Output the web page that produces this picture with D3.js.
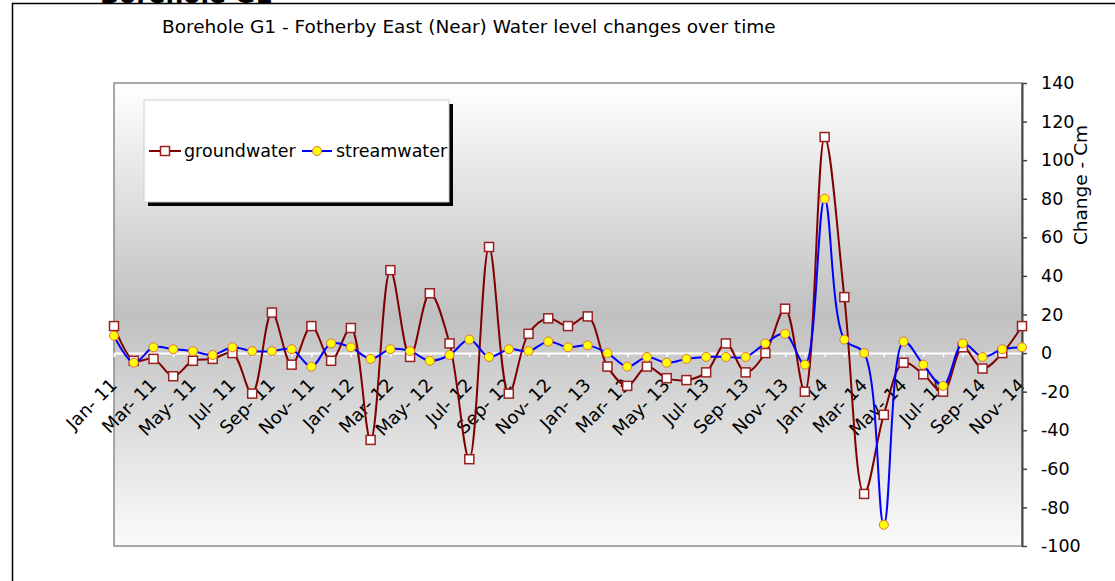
<!DOCTYPE html>
<html>
<head>
<meta charset="utf-8">
<script src="https://cdn.jsdelivr.net/npm/d3@7"></script>
<style>
	body { margin: 0; background: #fff; }
	text { font-family: "DejaVu Sans", Verdana, sans-serif; fill: #000; }
</style>
</head>
<body>
<script>
"use strict";

// monthly readings, Jan 2011 - Nov 2014
var months = [
	"Jan- 11","Feb- 11","Mar- 11","Apr- 11","May- 11","Jun- 11","Jul- 11","Aug- 11","Sep- 11","Oct- 11","Nov- 11","Dec- 11",
	"Jan- 12","Feb- 12","Mar- 12","Apr- 12","May- 12","Jun- 12","Jul- 12","Aug- 12","Sep- 12","Oct- 12","Nov- 12","Dec- 12",
	"Jan- 13","Feb- 13","Mar- 13","Apr- 13","May- 13","Jun- 13","Jul- 13","Aug- 13","Sep- 13","Oct- 13","Nov- 13","Dec- 13",
	"Jan- 14","Feb- 14","Mar- 14","Apr- 14","May- 14","Jun- 14","Jul- 14","Aug- 14","Sep- 14","Oct- 14","Nov- 14"
];

var groundwater = [
	14, -4, -3, -12, -4, -3, 0, -21, 21, -6, 14, -4,
	13, -45, 43, -2, 31, 5, -55, 55, -21, 10, 18, 14,
	19, -7, -17, -7, -13, -14, -10, 5, -10, 0, 23, -20,
	112, 29, -73, -32, -5, -11, -20, 3, -8, 0, 14
];

var streamwater = [
	9, -5, 3, 2, 1, -1, 3, 1, 1, 2, -7, 5,
	3, -3, 2, 1, -4, -1, 7, -2, 2, 1, 6, 3,
	4, 0, -7, -2, -5, -3, -2, -2, -2, 5, 10, -6,
	80, 7, 0, -89, 6, -6, -17, 5, -2, 2, 3
];

// every second month gets a label
var xTickLabels = months.filter(function(d, i) { return i % 2 === 0; });
var yTicks = [-100, -80, -60, -40, -20, 0, 20, 40, 60, 80, 100, 120, 140];

var width = 1115;
var height = 581;

var plot = { left: 114, right: 1022, top: 83, bottom: 546 };

var svg = d3.select("body").append("svg")
	.attr("width", width)
	.attr("height", height);

var xScale = d3.scalePoint()
	.domain(months)
	.range([plot.left, plot.right]);

var yScale = d3.scaleLinear()
	.domain([-100, 140])
	.range([plot.bottom, plot.top]);

// background gradient for the plot area
var defs = svg.append("defs");
var grad = defs.append("linearGradient")
	.attr("id", "plotGrad")
	.attr("x1", 0).attr("y1", 0)
	.attr("x2", 0).attr("y2", 1);
grad.append("stop").attr("offset", "0%").attr("stop-color", "#ffffff");
grad.append("stop").attr("offset", "50%").attr("stop-color", "#c0c0c0");
grad.append("stop").attr("offset", "100%").attr("stop-color", "#fbfbfb");

// big heading, mostly cut off at the top
svg.append("text")
	.attr("x", 100)
	.attr("y", 2.5)
	.style("font-size", "25px")
	.style("font-weight", "bold")
	.text("Borehole G1");

// outer chart frame
svg.append("rect")
	.attr("x", 12.5)
	.attr("y", 3.5)
	.attr("width", width + 20)
	.attr("height", height + 20)
	.attr("fill", "none")
	.attr("stroke", "#000")
	.attr("stroke-width", 1.5);

svg.append("text")
	.attr("x", 162)
	.attr("y", 33)
	.style("font-size", "18.5px")
	.text("Borehole G1 - Fotherby East (Near) Water level changes over time");

// plot area
svg.append("rect")
	.attr("x", plot.left)
	.attr("y", plot.top)
	.attr("width", plot.right - plot.left)
	.attr("height", plot.bottom - plot.top)
	.attr("fill", "url(#plotGrad)")
	.attr("stroke", "#8c8c8c")
	.attr("stroke-width", 1.5);

// zero line with category ticks
var zeroY = yScale(0);
var xAxis = svg.append("g")
	.attr("class", "axis x")
	.attr("transform", "translate(0," + zeroY + ")")
	.call(d3.axisBottom(xScale).tickSize(4).tickSizeOuter(0).tickFormat(""));
xAxis.select(".domain").attr("stroke", "#fff").attr("stroke-width", 2);
xAxis.selectAll(".tick line").attr("stroke", "#fff").attr("stroke-width", 1.5);

svg.append("g")
	.attr("class", "x-labels")
	.selectAll("text")
	.data(xTickLabels)
	.enter()
	.append("text")
	.attr("transform", function(d) { return "translate(" + (xScale(d) - 5) + ",377) rotate(-45)"; })
	.attr("dy", "0.72em")
	.style("text-anchor", "end")
	.style("font-size", "18px")
	.text(function(d) { return d; });

// right value axis
var yAxis = svg.append("g")
	.attr("class", "axis y")
	.attr("transform", "translate(" + plot.right + ",0)")
	.call(d3.axisRight(yScale)
		.tickValues(yTicks)
		.tickFormat(function(d) { return String(d); })
		.tickSize(5).tickSizeOuter(0).tickPadding(14));
yAxis.select(".domain").attr("stroke", "#444").attr("stroke-width", 2);
yAxis.selectAll(".tick line").attr("stroke", "#444").attr("stroke-width", 1.5);
yAxis.selectAll(".tick text")
	.style("font-size", "17.5px")
	.style("font-family", "\"DejaVu Sans\", Verdana, sans-serif")
	.attr("fill", "#000");

svg.append("text")
	.attr("transform", "translate(1087,185) rotate(-90)")
	.style("text-anchor", "middle")
	.style("font-size", "18.5px")
	.text("Change - Cm");

// series
var line = d3.line()
	.x(function(d, i) { return xScale(months[i]); })
	.y(function(d) { return yScale(d); })
	.curve(d3.curveCatmullRom.alpha(0.5));

var gw = svg.append("g").attr("class", "groundwater");
gw.append("path")
	.datum(groundwater)
	.attr("d", line)
	.attr("fill", "none")
	.attr("stroke", "#800000")
	.attr("stroke-width", 2);
gw.selectAll("rect")
	.data(groundwater)
	.enter()
	.append("rect")
	.attr("x", function(d, i) { return xScale(months[i]) - 4.5; })
	.attr("y", function(d) { return yScale(d) - 4.5; })
	.attr("width", 9)
	.attr("height", 9)
	.attr("fill", "#fff")
	.attr("stroke", "#9a2020")
	.attr("stroke-width", 1.5);

var sw = svg.append("g").attr("class", "streamwater");
sw.append("path")
	.datum(streamwater)
	.attr("d", line)
	.attr("fill", "none")
	.attr("stroke", "#0000ff")
	.attr("stroke-width", 2);
sw.selectAll("circle")
	.data(streamwater)
	.enter()
	.append("circle")
	.attr("cx", function(d, i) { return xScale(months[i]); })
	.attr("cy", function(d) { return yScale(d); })
	.attr("r", 4.5)
	.attr("fill", "#ffff00")
	.attr("stroke", "#e0703c")
	.attr("stroke-width", 1);

// legend with drop shadow
var legend = svg.append("g").attr("class", "legend");
legend.append("rect")
	.attr("x", 148).attr("y", 104)
	.attr("width", 305).attr("height", 102)
	.attr("fill", "#000");
legend.append("rect")
	.attr("x", 144).attr("y", 100)
	.attr("width", 305).attr("height", 102)
	.attr("fill", "#fff")
	.attr("stroke", "#cfcfcf")
	.attr("stroke-width", 1);

var ly = 151;
legend.append("line")
	.attr("x1", 149).attr("x2", 181).attr("y1", ly).attr("y2", ly)
	.attr("stroke", "#800000").attr("stroke-width", 2);
legend.append("rect")
	.attr("x", 165 - 4.5).attr("y", ly - 4.5)
	.attr("width", 9).attr("height", 9)
	.attr("fill", "#fff").attr("stroke", "#9a2020").attr("stroke-width", 1.5);
legend.append("text")
	.attr("x", 184).attr("y", ly).attr("dy", "0.35em")
	.style("font-size", "17.5px")
	.text("groundwater");

legend.append("line")
	.attr("x1", 302).attr("x2", 332).attr("y1", ly).attr("y2", ly)
	.attr("stroke", "#0000ff").attr("stroke-width", 2);
legend.append("circle")
	.attr("cx", 317).attr("cy", ly).attr("r", 4.5)
	.attr("fill", "#ffff00").attr("stroke", "#e0703c").attr("stroke-width", 1);
legend.append("text")
	.attr("x", 336).attr("y", ly).attr("dy", "0.35em")
	.style("font-size", "17.5px")
	.text("streamwater");
</script>
</body>
</html>
